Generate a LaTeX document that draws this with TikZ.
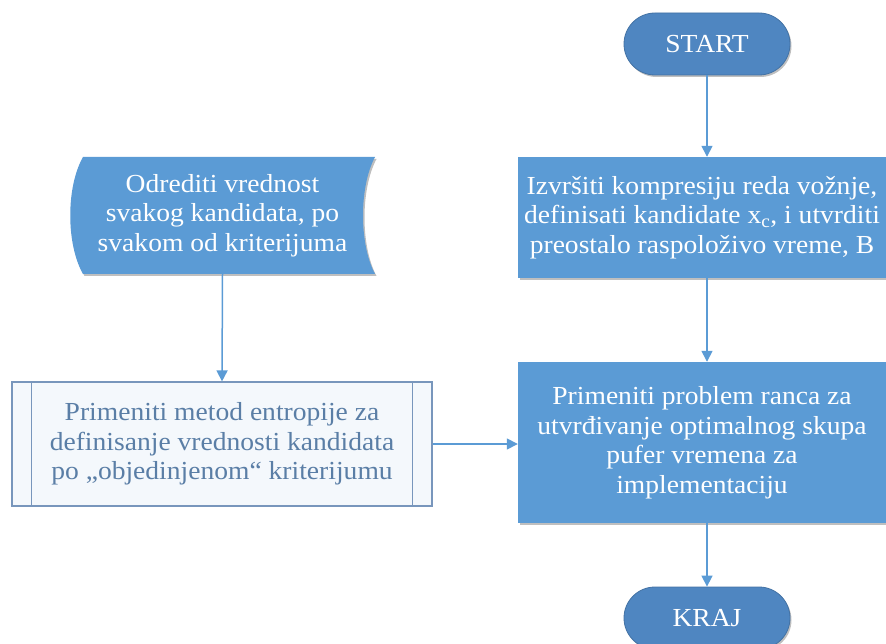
\documentclass[tikz,border=0pt]{standalone}
\usepackage{fontspec}
\setmainfont{Liberation Serif}[FakeStretch=1.06]
\usetikzlibrary{arrows.meta,shapes.misc,shadows,calc}
\definecolor{boxblue}{HTML}{5B9BD5}
\definecolor{termblue}{HTML}{4F86C1}
\definecolor{arrowblue}{HTML}{5B9BD5}
\definecolor{pdborder}{HTML}{7896BC}
\definecolor{pdtext}{HTML}{5A7EA6}
\definecolor{pdfill}{HTML}{F4F8FC}
\begin{document}
\begin{tikzpicture}[x=1pt,y=-1pt,
  font=\fontsize{26}{29.5}\selectfont,
  shad/.style={drop shadow={shadow xshift=1.5pt,shadow yshift=-2pt,opacity=0.25,fill=black}},
  term/.style={rounded rectangle, fill=termblue, draw=termblue!85!black, line width=0.8pt, text=white, minimum width=166pt, minimum height=62pt, inner sep=0pt, shad},
  procbox/.style={rectangle, fill=boxblue, text=white, align=center, inner sep=1pt, minimum width=368pt, shad},
  predef/.style={rectangle, fill=pdfill, draw=pdborder, line width=1.2pt, text=pdtext, align=center, inner sep=1pt, minimum width=420pt, minimum height=124pt},
  pdline/.style={draw=pdborder, line width=1.2pt},
  storefill/.style={fill=boxblue, shad},
  arr/.style={draw=arrowblue, line width=1.5pt, -{Triangle[width=11pt,length=11pt]}}
]
\useasboundingbox (0,0) rectangle (886,644);
\clip (0,0) rectangle (886,644);

% stored data shape outline
\fill[storefill] (83,157) -- (375,157) .. controls (359,187) and (359,244) .. (375,274)
  -- (83,274) .. controls (66,244) and (66,187) .. (83,157) -- cycle;
\node[text=white, align=center, minimum width=305pt, minimum height=117pt, inner sep=0pt] (od) at (222.5,215.5)
  {Odrediti vrednost\\svakog kandidata, po\\svakom od kriterijuma};

\node[predef] (pd) at (222,444) {Primeniti metod entropije za\\definisanje vrednosti kandidata\\po „objedinjenom“ kriterijumu};
\draw[pdline] ($(pd.north west)+(20,0)$) -- ($(pd.south west)+(20,0)$);
\draw[pdline] ($(pd.north east)+(-20,0)$) -- ($(pd.south east)+(-20,0)$);

\node[term] (start) at (707,44) {START};
\node[procbox, minimum height=121pt] (b1) at (702,217.5)
  {Izvršiti kompresiju reda vožnje,\\definisati kandidate x\textsubscript{c}, i utvrditi\\preostalo raspoloživo vreme, B};
\node[procbox, minimum height=161pt] (b2) at (702,442.5)
  {Primeniti problem ranca za\\utvrđivanje optimalnog skupa\\pufer vremena za\\implementaciju};
\node[term] (kraj) at (707,618) {KRAJ};

\draw[arr] (start.south) -- (start.south |- b1.north);
\draw[arr] (b1.south -| start.south) -- (b2.north -| start.south);
\draw[arr] (b2.south -| start.south) -- (kraj.north);
\draw[arr] (od.south) -- (pd.north);
\draw[arr] (pd.east) -- (pd.east -| b2.west);
\end{tikzpicture}
\end{document}
